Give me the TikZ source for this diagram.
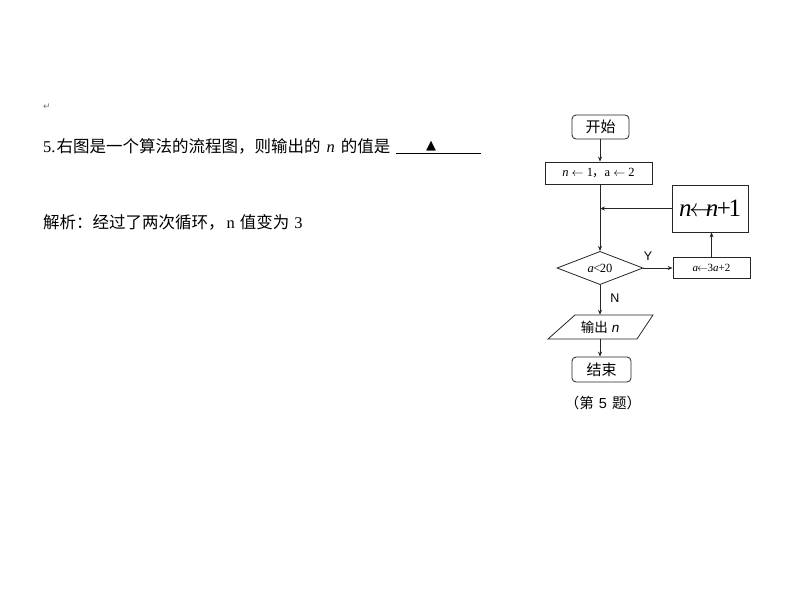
\documentclass[tikz,border=0pt]{standalone}
\usepackage{fontspec}
\setmainfont{Liberation Serif}
\newfontfamily\cjk{Noto Sans CJK SC}
\newfontfamily\dejavu{DejaVu Sans}
\newfontfamily\lsans{Liberation Sans}
\usetikzlibrary{shapes.geometric,arrows.meta}
\newcommand{\larr}{\ensuremath{\leftarrow}}
\begin{document}
\begin{tikzpicture}[x=1pt,y=-1pt,
  line/.style={draw=black!85,line width=0.8pt},
  arr/.style={line,-{Stealth[length=5pt,width=4pt]}},
  term/.style={line,rounded corners=4pt,minimum width=57pt,minimum height=24pt,inner sep=0pt,font=\cjk\fontsize{15}{16}\selectfont},
  proc/.style={line,rectangle,inner sep=0pt},
  dec/.style={line,diamond,inner sep=0pt,minimum width=86pt,minimum height=33pt},
  lab/.style={font=\lsans\fontsize{12.5}{13}\selectfont,inner sep=0pt},
  qtext/.style={anchor=base west,inner sep=0pt,font=\fontsize{16.5}{18}\selectfont}
]
\useasboundingbox (0,0) rectangle (800,600);
\fill[white] (0,0) rectangle (800,600);

% left text
\node[anchor=center,inner sep=0pt,text=black!55,font=\dejavu\fontsize{9}{10}\selectfont] (ret) at (47,107) {↵};
\node[qtext] (q1) at (43,152) {5.\kern1pt{\cjk 右图是一个算法的流程图，则输出的}\hspace{6pt}\textit{n}\hspace{6pt}{\cjk 的值是}};
\coordinate (ul1) at (396,153.5);
\coordinate (ul2) at (481,153.5);
\draw[line width=0.8pt] (ul1) -- (ul2);
\node[inner sep=0pt,font=\dejavu\fontsize{13}{14}\selectfont] (tri) at (431,146) {▲};
\node[qtext] (q2) at (43,228) {{\cjk 解析：经过了两次循环，}\hspace{2pt}n\hspace{5pt}{\cjk 值变为}\hspace{5pt}3};

% flowchart
\node[term] (start) at (600.5,127) {开始};
\node[proc,minimum width=107pt,minimum height=22pt,font=\fontsize{12.5}{13}\selectfont] (init) at (598.5,173)
  {\textit{n} \larr\ 1{\cjk\kern-1pt，}a \larr\ 2};
\node[proc,minimum width=76pt,minimum height=47pt,font=\fontsize{25}{26}\selectfont] (inc) at (710,208.5)
  {\textit{n}\kern-2.5pt\larr\kern-8pt\textit{n}\kern-1.5pt+\kern-2.5pt1};
\node[dec,font=\fontsize{12.5}{13}\selectfont] (dec) at (600,268) {\textit{a}\kern-0.5pt<\kern-0.5pt20};
\node[proc,minimum width=77pt,minimum height=21pt,font=\fontsize{11}{12}\selectfont] (upd) at (711.5,268)
  {\textit{a}\kern-1pt\larr\kern-0.5pt3\textit{a}+2};
\node[inner sep=0pt,minimum width=84pt,minimum height=24pt,font=\cjk\fontsize{13.5}{14}\selectfont] (io) at (600,327)
  {输出\hspace{4pt}{\lsans\itshape n}};
\draw[line] (548,339) -- (575,315) -- (653,315) -- (637,339) -- cycle;
\node[term,minimum width=59pt,minimum height=25pt] (stop) at (601.5,369.5) {结束};
\node[inner sep=0pt,font=\cjk\fontsize{14.5}{15}\selectfont] (cap) at (603,403) {（第\hspace{5pt}{\lsans 5}\hspace{5pt}题）};

\coordinate (j) at (600,208.5);

\draw[arr] (start.south -| j) -- (j |- init.north);
\draw[line] (j |- init.south) -- (j);
\draw[arr] (j) -- (dec.north);
\draw[arr] (inc.west) -- (j);
\draw[arr] (dec.east) -- (upd.west);
\draw[arr] (upd.north) -- (inc.south -| upd.north);
\draw[arr] (dec.south) -- (io.north -| dec.south);
\draw[arr] (io.south -| j) -- (stop.north -| j);
\node[lab] (ylab) at (648,256) {Y};
\node[lab] (nlab) at (615,298) {N};
\end{tikzpicture}
\end{document}
